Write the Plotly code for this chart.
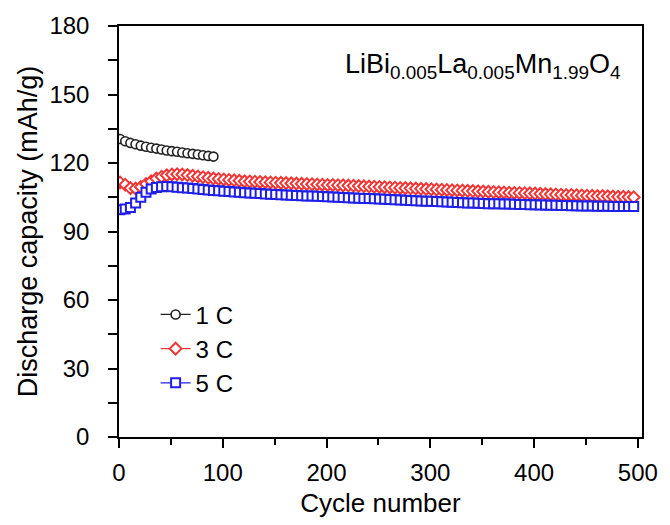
import plotly.graph_objects as go

cycles_1c = list(range(1, 92, 5))
cap_1c = [130.5, 129.5, 128.8, 128.2, 127.6, 127.1, 126.7, 126.3, 125.9, 125.5,
          125.2, 124.9, 124.6, 124.3, 124.0, 123.7, 123.4, 123.1, 122.8]

cycles_35 = list(range(1, 500, 5))
cap_3c = [111.5, 110.5, 109.0, 108.8, 109.5, 110.8, 112.0, 113.2, 114.0, 114.6,
          115.0, 115.1, 115.0, 114.7, 114.4, 114.1, 113.8, 113.5, 113.2, 113.0,
          112.8,
          112.6, 112.4, 112.2, 112.0, 111.9, 111.8, 111.7, 111.6, 111.5,
          111.4, 111.3, 111.2, 111.1, 111.0, 110.9, 110.8, 110.7, 110.6, 110.5,
          110.4, 110.4, 110.3, 110.2, 110.1, 110.0, 109.9, 109.8, 109.7, 109.6,
          109.5, 109.4, 109.3, 109.2, 109.1, 109.0, 108.9, 108.8, 108.7, 108.6,
          108.5, 108.4, 108.3, 108.2, 108.1, 108.0, 107.9, 107.8, 107.7, 107.6,
          107.5, 107.4, 107.3, 107.2, 107.1, 107.0, 106.9, 106.9, 106.8, 106.7,
          106.6, 106.5, 106.4, 106.3, 106.2, 106.1, 106.0, 106.0, 105.9, 105.8,
          105.7, 105.6, 105.5, 105.5, 105.4, 105.3, 105.2, 105.2, 105.1, 105.0]
cap_5c = [99.5, 99.8, 100.5, 102.5, 105.0, 107.2, 108.6, 109.3, 109.6, 109.7,
          109.6, 109.4, 109.2, 109.0, 108.8, 108.6, 108.4, 108.2, 108.0, 107.8,
          107.6,
          107.5, 107.3, 107.2, 107.0, 106.9, 106.7, 106.6, 106.4, 106.3,
          106.2, 106.1, 106.0, 105.9, 105.8, 105.7, 105.6, 105.5, 105.4, 105.3,
          105.2, 105.1, 105.0, 104.9, 104.8, 104.7, 104.6, 104.5, 104.4, 104.3,
          104.2, 104.1, 104.0, 103.9, 103.8, 103.7, 103.6, 103.5, 103.4, 103.3,
          103.2, 103.1, 103.0, 102.9, 102.8, 102.7, 102.6, 102.5, 102.5, 102.4,
          102.3, 102.2, 102.2, 102.1, 102.0, 102.0, 101.9, 101.8, 101.8, 101.7,
          101.7, 101.6, 101.6, 101.5, 101.5, 101.4, 101.4, 101.3, 101.3, 101.2,
          101.2, 101.2, 101.1, 101.1, 101.1, 101.0, 101.0, 101.0, 100.9, 100.9]

series = [
    ("1 C", cycles_1c, cap_1c, "#222222", "circle", 1.6),
    ("3 C", cycles_35, cap_3c, "#f03535", "diamond", 2.0),
    ("5 C", cycles_35, cap_5c, "#1f1fe8", "square", 2.0),
]

FONT = "Liberation Sans, Arial, sans-serif"
fig = go.Figure()
for name, x, y, col, sym, lw in series:
    fig.add_trace(go.Scatter(
        x=x, y=y, name=name, mode="lines+markers",
        line=dict(color=col, width=1.2),
        marker=dict(symbol=sym, size=9, color="white",
                    line=dict(color=col, width=lw)),
    ))

fig.update_layout(
    width=670, height=525,
    margin=dict(l=119, r=21, t=26, b=86),
    paper_bgcolor="white", plot_bgcolor="white",
    font=dict(family=FONT, color="black", size=24),
    showlegend=True,
    legend=dict(x=0.07, y=0.352, xanchor="left", yanchor="top",
                bgcolor="rgba(0,0,0,0)", font=dict(size=24),
                itemwidth=30, tracegroupgap=0),
    annotations=[dict(
        x=0.962, y=0.902, xref="paper", yref="paper", xanchor="right", yanchor="middle",
        text="LiBi<sub>0.005</sub>La<sub>0.005</sub>Mn<sub>1.99</sub>O<sub>4</sub>",
        showarrow=False, font=dict(size=27, family=FONT, color="black"),
    )],
)
fig.update_xaxes(
    range=[0, 504], tickmode="linear", tick0=0, dtick=100,
    ticks="outside", ticklen=9, tickwidth=1.5, tickcolor="black",
    minor=dict(tick0=0, dtick=50, ticks="outside", ticklen=6, tickwidth=1.5, tickcolor="black"),
    showline=True, linecolor="black", linewidth=1.5, mirror=True,
    showgrid=False, zeroline=False,
    title=dict(text="Cycle number", font=dict(size=26), standoff=9),
    tickfont=dict(size=24), ticklabelstandoff=4,
)
fig.update_yaxes(
    range=[0, 180], tickmode="linear", tick0=0, dtick=30,
    ticks="outside", ticklen=9, tickwidth=1.5, tickcolor="black",
    minor=dict(tick0=0, dtick=15, ticks="outside", ticklen=9, tickwidth=1.5, tickcolor="black"),
    showline=True, linecolor="black", linewidth=1.5, mirror=True,
    showgrid=False, zeroline=False,
    title=dict(text="Discharge capacity (mAh/g)", font=dict(size=27), standoff=4),
    tickfont=dict(size=24), ticklabelstandoff=14,
)
fig.write_html("out.html")
